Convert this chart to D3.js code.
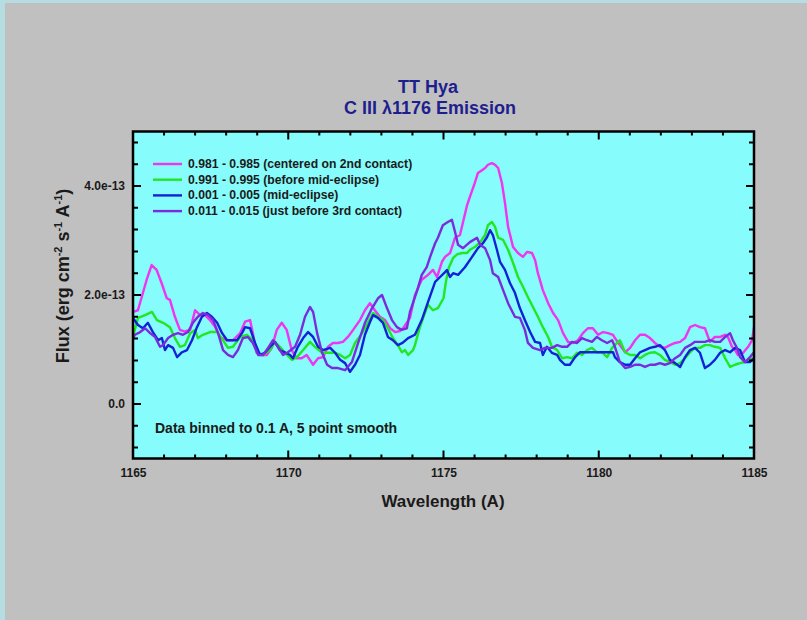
<!DOCTYPE html>
<html>
<head>
<meta charset="utf-8">
<script src="https://cdn.jsdelivr.net/npm/d3@7"></script>
<style>
  html, body { margin: 0; padding: 0; background: #c0c0c0; }
  svg { display: block; }
  text { font-family: "Liberation Sans", Arial, sans-serif; }
</style>
</head>
<body>
<svg id="chart" width="807" height="620"></svg>
<script>
// C III 1176 emission of TT Hya at four orbital phases.
// Each series: [wavelength (A), flux in units of 1e-13 erg cm^-2 s^-1 A^-1]
const phase0981 = [
  [1165.00,1.69],[1165.16,1.72],[1165.44,2.28],[1165.60,2.55],[1165.76,2.46],[1165.92,2.22],[1166.09,1.94],[1166.19,1.91],[1166.35,1.60],[1166.51,1.36],[1166.67,1.33],[1166.84,1.36],[1167.00,1.72],[1167.16,1.63],[1167.32,1.63],[1167.48,1.54],[1167.64,1.42],[1167.80,1.23],[1168.02,1.17],[1168.22,1.17],[1168.45,1.30],[1168.61,1.51],[1168.77,1.54],[1168.86,1.30],[1168.98,0.94],[1169.14,0.90],[1169.31,0.90],[1169.47,1.03],[1169.63,1.36],[1169.79,1.49],[1169.95,1.36],[1170.11,0.99],[1170.27,0.84],[1170.43,0.84],[1170.59,0.90],[1170.80,0.72],[1170.96,0.84],[1171.12,0.86],[1171.28,1.05],[1171.44,1.12],[1171.60,1.12],[1171.76,1.14],[1171.92,1.23],[1172.09,1.36],[1172.31,1.54],[1172.47,1.72],[1172.63,1.85],[1172.79,1.72],[1172.95,1.60],[1173.12,1.54],[1173.28,1.39],[1173.44,1.32],[1173.60,1.34],[1173.70,1.39],[1173.92,1.58],[1174.08,2.00],[1174.30,2.28],[1174.50,2.37],[1174.66,2.46],[1174.79,2.33],[1174.95,2.61],[1175.05,2.70],[1175.21,2.77],[1175.37,3.05],[1175.53,3.10],[1175.63,3.34],[1175.76,3.65],[1175.85,3.80],[1176.01,4.06],[1176.11,4.24],[1176.24,4.29],[1176.34,4.33],[1176.43,4.39],[1176.56,4.42],[1176.66,4.39],[1176.76,4.33],[1176.88,4.06],[1176.98,3.69],[1177.08,3.25],[1177.24,2.88],[1177.40,2.77],[1177.56,2.70],[1177.69,2.79],[1177.85,2.77],[1177.95,2.64],[1178.04,2.40],[1178.20,2.09],[1178.37,1.85],[1178.53,1.67],[1178.69,1.54],[1178.85,1.30],[1179.01,1.14],[1179.17,1.12],[1179.33,1.17],[1179.49,1.30],[1179.65,1.39],[1179.81,1.39],[1179.98,1.27],[1180.14,1.32],[1180.30,1.30],[1180.46,1.27],[1180.52,1.21],[1180.68,1.08],[1180.85,0.95],[1181.01,1.03],[1181.17,1.17],[1181.33,1.27],[1181.49,1.27],[1181.65,1.21],[1181.81,1.12],[1181.97,1.05],[1182.13,1.03],[1182.29,1.08],[1182.46,1.12],[1182.62,1.14],[1182.78,1.21],[1182.94,1.41],[1183.10,1.45],[1183.26,1.41],[1183.42,1.39],[1183.58,1.14],[1183.74,1.23],[1183.91,1.23],[1184.07,1.27],[1184.16,1.23],[1184.29,1.05],[1184.39,0.99],[1184.48,0.90],[1184.65,0.94],[1184.81,1.05],[1184.94,1.17],[1185.00,1.41]
];
const phase0991 = [
  [1165.00,1.23],[1165.16,1.58],[1165.39,1.63],[1165.61,1.69],[1165.77,1.54],[1165.97,1.49],[1166.19,1.41],[1166.35,1.21],[1166.51,1.05],[1166.67,1.08],[1166.84,1.30],[1167.00,1.36],[1167.09,1.21],[1167.25,1.27],[1167.48,1.32],[1167.71,1.32],[1167.90,1.17],[1168.06,1.03],[1168.22,1.05],[1168.45,1.23],[1168.67,1.27],[1168.86,1.17],[1169.03,0.94],[1169.19,0.90],[1169.41,0.99],[1169.57,1.14],[1169.73,1.05],[1169.96,0.90],[1170.12,0.81],[1170.28,0.86],[1170.48,0.99],[1170.70,1.14],[1170.86,1.05],[1171.09,0.94],[1171.28,0.94],[1171.51,0.94],[1171.67,0.90],[1171.83,0.84],[1171.99,0.90],[1172.15,1.12],[1172.38,1.30],[1172.57,1.50],[1172.73,1.67],[1172.89,1.60],[1173.05,1.54],[1173.21,1.39],[1173.37,1.21],[1173.53,1.08],[1173.66,0.95],[1173.76,0.99],[1173.86,0.90],[1174.02,0.99],[1174.08,1.08],[1174.24,1.41],[1174.40,1.67],[1174.50,1.82],[1174.66,1.72],[1174.82,1.76],[1175.00,1.94],[1175.08,2.25],[1175.17,2.50],[1175.31,2.68],[1175.45,2.75],[1175.60,2.77],[1175.76,2.77],[1175.85,2.83],[1176.01,2.88],[1176.18,2.97],[1176.34,3.10],[1176.43,3.28],[1176.56,3.34],[1176.66,3.25],[1176.76,3.05],[1176.92,3.01],[1177.08,2.83],[1177.24,2.59],[1177.40,2.33],[1177.56,2.15],[1177.72,1.96],[1177.88,1.78],[1178.04,1.60],[1178.20,1.41],[1178.37,1.23],[1178.49,1.05],[1178.66,0.99],[1178.82,0.84],[1178.98,0.86],[1179.14,0.84],[1179.30,0.94],[1179.46,0.90],[1179.62,0.99],[1179.78,1.03],[1179.94,0.95],[1180.10,0.95],[1180.27,0.86],[1180.43,1.03],[1180.59,1.12],[1180.68,1.17],[1180.85,0.95],[1181.01,0.90],[1181.17,0.90],[1181.33,0.84],[1181.49,0.90],[1181.65,0.94],[1181.81,0.95],[1181.97,0.90],[1182.13,0.81],[1182.29,0.77],[1182.46,0.72],[1182.62,0.75],[1182.78,0.84],[1182.94,0.95],[1183.10,1.03],[1183.26,1.03],[1183.42,1.08],[1183.58,1.08],[1183.74,1.05],[1183.91,1.03],[1184.07,0.84],[1184.23,0.68],[1184.39,0.72],[1184.55,0.75],[1184.71,0.77],[1184.81,0.81],[1185.00,0.84]
];
const phase0001 = [
  [1165.00,1.58],[1165.16,1.45],[1165.32,1.39],[1165.48,1.49],[1165.64,1.32],[1165.81,1.17],[1165.93,1.21],[1166.03,0.99],[1166.13,1.08],[1166.29,1.03],[1166.42,0.86],[1166.58,0.95],[1166.74,0.99],[1166.90,1.17],[1167.06,1.41],[1167.22,1.60],[1167.38,1.67],[1167.54,1.60],[1167.71,1.49],[1167.87,1.30],[1168.03,1.17],[1168.19,1.17],[1168.35,1.17],[1168.51,1.30],[1168.61,1.41],[1168.77,1.39],[1168.93,1.12],[1169.09,0.90],[1169.25,0.94],[1169.41,1.05],[1169.57,1.14],[1169.73,0.99],[1169.89,0.95],[1170.06,0.90],[1170.15,0.84],[1170.31,1.05],[1170.48,1.21],[1170.64,1.32],[1170.80,1.23],[1170.96,1.05],[1171.12,0.99],[1171.35,1.03],[1171.51,0.94],[1171.67,0.81],[1171.83,0.75],[1171.92,0.66],[1171.99,0.59],[1172.15,0.72],[1172.31,0.90],[1172.47,1.27],[1172.63,1.50],[1172.73,1.63],[1172.89,1.58],[1173.05,1.49],[1173.21,1.23],[1173.37,1.17],[1173.53,1.08],[1173.68,1.12],[1173.86,1.21],[1174.08,1.27],[1174.30,1.54],[1174.50,1.87],[1174.73,2.24],[1174.89,2.33],[1175.05,2.42],[1175.11,2.46],[1175.21,2.33],[1175.31,2.40],[1175.47,2.37],[1175.69,2.51],[1175.92,2.70],[1176.11,2.86],[1176.27,2.95],[1176.40,3.06],[1176.50,3.19],[1176.59,3.10],[1176.72,2.83],[1176.82,2.61],[1176.98,2.46],[1177.14,2.22],[1177.30,2.04],[1177.46,1.76],[1177.62,1.54],[1177.79,1.32],[1177.95,1.14],[1178.11,1.12],[1178.20,0.90],[1178.33,1.05],[1178.49,0.94],[1178.66,0.90],[1178.75,0.81],[1178.91,0.72],[1179.07,0.72],[1179.24,0.86],[1179.40,0.95],[1179.62,0.95],[1179.81,0.95],[1180.04,0.95],[1180.27,0.95],[1180.46,0.95],[1180.52,0.86],[1180.68,0.77],[1180.85,0.72],[1181.01,0.72],[1181.17,0.84],[1181.33,0.95],[1181.49,0.99],[1181.65,1.03],[1181.81,1.05],[1181.97,1.08],[1182.13,0.99],[1182.29,0.81],[1182.46,0.75],[1182.62,0.68],[1182.78,0.86],[1182.94,0.99],[1183.10,1.03],[1183.26,0.94],[1183.42,0.66],[1183.58,0.72],[1183.74,0.81],[1183.91,0.94],[1184.07,0.99],[1184.23,0.95],[1184.39,1.03],[1184.55,0.99],[1184.71,0.77],[1184.87,0.77],[1185.00,0.84]
];
const phase0011 = [
  [1165.00,1.21],[1165.06,1.27],[1165.23,1.32],[1165.39,1.39],[1165.55,1.30],[1165.71,1.23],[1165.87,1.05],[1165.97,1.08],[1166.13,1.21],[1166.29,1.27],[1166.45,1.30],[1166.61,1.27],[1166.77,1.32],[1166.93,1.49],[1167.09,1.60],[1167.25,1.67],[1167.42,1.63],[1167.58,1.54],[1167.74,1.30],[1167.90,0.99],[1168.06,0.90],[1168.22,0.86],[1168.38,0.99],[1168.54,1.21],[1168.70,1.23],[1168.86,1.12],[1169.03,0.90],[1169.19,0.90],[1169.35,1.03],[1169.51,1.17],[1169.67,1.05],[1169.83,0.90],[1169.99,0.95],[1170.22,1.05],[1170.38,1.27],[1170.54,1.60],[1170.70,1.78],[1170.80,1.69],[1170.93,1.30],[1171.09,0.94],[1171.25,0.72],[1171.41,0.66],[1171.60,0.66],[1171.83,0.62],[1172.05,0.77],[1172.25,1.12],[1172.47,1.49],[1172.70,1.76],[1172.89,1.94],[1173.02,2.00],[1173.18,1.76],[1173.34,1.54],[1173.50,1.41],[1173.65,1.36],[1173.82,1.39],[1173.92,1.69],[1174.14,2.06],[1174.30,2.37],[1174.46,2.51],[1174.57,2.70],[1174.73,2.95],[1174.82,3.05],[1174.98,3.28],[1175.14,3.34],[1175.27,3.38],[1175.37,3.16],[1175.47,2.92],[1175.63,2.86],[1175.85,2.97],[1176.08,3.05],[1176.18,2.92],[1176.34,2.86],[1176.50,2.64],[1176.59,2.40],[1176.76,2.33],[1176.92,2.09],[1177.08,1.85],[1177.30,1.60],[1177.46,1.58],[1177.62,1.36],[1177.72,1.12],[1177.88,1.03],[1178.11,0.99],[1178.27,1.03],[1178.49,1.03],[1178.66,1.08],[1178.82,1.05],[1178.98,1.05],[1179.14,1.14],[1179.30,1.12],[1179.46,1.21],[1179.62,1.17],[1179.78,1.14],[1179.94,1.23],[1180.10,1.17],[1180.27,1.12],[1180.43,1.17],[1180.52,1.05],[1180.68,0.77],[1180.85,0.66],[1181.01,0.68],[1181.17,0.72],[1181.33,0.72],[1181.49,0.68],[1181.65,0.72],[1181.81,0.72],[1181.97,0.75],[1182.13,0.72],[1182.29,0.75],[1182.46,0.84],[1182.62,0.90],[1182.78,1.03],[1182.94,1.08],[1183.10,1.14],[1183.26,1.14],[1183.42,1.14],[1183.58,1.17],[1183.74,1.14],[1183.91,1.14],[1184.07,1.23],[1184.23,1.30],[1184.32,1.17],[1184.45,1.03],[1184.55,0.86],[1184.71,0.77],[1184.87,0.86],[1185.00,0.95]
];

const seriesLabels = [
  "0.981 - 0.985 (centered on 2nd contact)",
  "0.991 - 0.995 (before mid-eclipse)",
  "0.001 - 0.005 (mid-eclipse)",
  "0.011 - 0.015 (just before 3rd contact)"
];
const seriesColors = ["#f034f0", "#22e622", "#1422d6", "#7a2cdc"];

const xMajorTicks = [1165, 1170, 1175, 1180, 1185];
const xMinorTicks = [1166,1167,1168,1169,1171,1172,1173,1174,1176,1177,1178,1179,1181,1182,1183,1184];
const yMajorTicks = [0, 2, 4];
const yMinorTicks = [-0.8,-0.4,0.4,0.8,1.2,1.6,2.4,2.8,3.2,3.6,4.4,4.8];

const titleLines = ["TT Hya", "C III \u03bb1176 Emission"];
const note = "Data binned to 0.1 A, 5 point smooth";

const svg = d3.select("#chart");

// light outer frame along the top and left edges
svg.append("rect").attr("x", 0).attr("y", 0).attr("width", 807).attr("height", 3).attr("fill", "#b6dde2");
svg.append("rect").attr("x", 0).attr("y", 0).attr("width", 5).attr("height", 620).attr("fill", "#b6dde2");

const x = d3.scaleLinear().domain([1165, 1185]).range([133, 754]);
const y = d3.scaleLinear().domain([-1, 5]).range([458.5, 131.5]);

const plotL = x(1165), plotR = x(1185), plotT = y(5), plotB = y(-1);

// plot background
svg.append("rect")
  .attr("x", plotL).attr("y", plotT)
  .attr("width", plotR - plotL).attr("height", plotB - plotT)
  .attr("fill", "#86fcfc");

svg.append("clipPath").attr("id", "plotclip")
  .append("rect").attr("x", plotL).attr("y", plotT)
  .attr("width", plotR - plotL).attr("height", plotB - plotT);

// spectra
const line = d3.line().x(d => x(d[0])).y(d => y(d[1]));
const allSeries = [phase0981, phase0991, phase0001, phase0011];
svg.append("g").attr("clip-path", "url(#plotclip)")
  .selectAll("path").data(allSeries).join("path")
  .attr("d", line)
  .attr("fill", "none")
  .attr("stroke", (d, i) => seriesColors[i])
  .attr("stroke-width", 2.4)
  .attr("stroke-linejoin", "round");

// inward tick marks on all four sides, one path per tick set
function xTickPath(values, len) {
  return values.map(v => `M${x(v)},${plotB}V${plotB - len}M${x(v)},${plotT}V${plotT + len}`).join("");
}
function yTickPath(values, len) {
  return values.map(v => `M${plotL},${y(v)}H${plotL + len}M${plotR},${y(v)}H${plotR - len}`).join("");
}
const tickPaths = [
  xTickPath(xMajorTicks, 8),
  xTickPath(xMinorTicks, 4),
  yTickPath(yMajorTicks, 8),
  yTickPath(yMinorTicks, 5)
];
svg.append("g").selectAll("path").data(tickPaths).join("path")
  .attr("d", d => d)
  .attr("fill", "none")
  .attr("stroke", "#000")
  .attr("stroke-width", 2);

// tick labels via d3 axes
function styleLabels(g) {
  g.select(".domain").remove();
  g.selectAll(".tick line").remove();
  g.selectAll(".tick text")
    .attr("fill", "#1a1a1a")
    .attr("font-size", 12)
    .attr("font-weight", "bold")
    .attr("font-family", "'Liberation Sans', Arial, sans-serif");
}
const yFmt = v => v === 0 ? "0.0" : v.toFixed(1) + "e-13";

svg.append("g").attr("transform", `translate(0,${plotB})`)
  .call(d3.axisBottom(x).tickValues(xMajorTicks).tickSize(0).tickPadding(10).tickFormat(d3.format("d")))
  .call(styleLabels);
svg.append("g").attr("transform", `translate(${plotL},0)`)
  .call(d3.axisLeft(y).tickValues(yMajorTicks).tickSize(0).tickPadding(8).tickFormat(yFmt))
  .call(styleLabels);

// frame
svg.append("rect")
  .attr("x", plotL).attr("y", plotT)
  .attr("width", plotR - plotL).attr("height", plotB - plotT)
  .attr("fill", "none").attr("stroke", "#000").attr("stroke-width", 2.5);

// title
const title = svg.append("text")
  .attr("text-anchor", "middle")
  .attr("font-size", 18).attr("font-weight", "bold")
  .attr("fill", "#1e1e8e");
title.append("tspan").attr("x", 428).attr("y", 93).text(titleLines[0]);
title.append("tspan").attr("x", 430).attr("y", 114).text(titleLines[1]);

// axis titles
svg.append("text")
  .attr("x", 443).attr("y", 507)
  .attr("text-anchor", "middle")
  .attr("font-size", 17).attr("font-weight", "bold").attr("fill", "#1a1a1a")
  .text("Wavelength (A)");

const yTitle = svg.append("text")
  .attr("transform", "translate(69,276) rotate(-90)")
  .attr("text-anchor", "middle")
  .attr("font-size", 18).attr("font-weight", "bold").attr("fill", "#1a1a1a");
yTitle.append("tspan").text("Flux (erg cm");
yTitle.append("tspan").attr("font-size", 11).attr("dy", -7).text("-2");
yTitle.append("tspan").attr("dy", 7).text(" s");
yTitle.append("tspan").attr("font-size", 11).attr("dy", -7).text("-1");
yTitle.append("tspan").attr("dy", 7).text(" A");
yTitle.append("tspan").attr("font-size", 11).attr("dy", -7).text("-1");
yTitle.append("tspan").attr("dy", 7).text(")");

// legend
const legend = svg.append("g");
const rows = legend.selectAll("g").data(seriesLabels).join("g")
  .attr("transform", (d, i) => `translate(0,${164 + i * 15.7})`);
rows.append("line")
  .attr("x1", 153).attr("x2", 182).attr("y1", 0).attr("y2", 0)
  .attr("stroke", (d, i) => seriesColors[i]).attr("stroke-width", 2.4);
rows.append("text")
  .attr("x", 188).attr("y", 4)
  .attr("font-size", 12.2).attr("font-weight", "bold").attr("fill", "#1a1a1a")
  .text(d => d);

// annotation
svg.append("text")
  .attr("x", 155).attr("y", 433)
  .attr("font-size", 14).attr("font-weight", "bold").attr("fill", "#1a1a1a")
  .text(note);
</script>
</body>
</html>
